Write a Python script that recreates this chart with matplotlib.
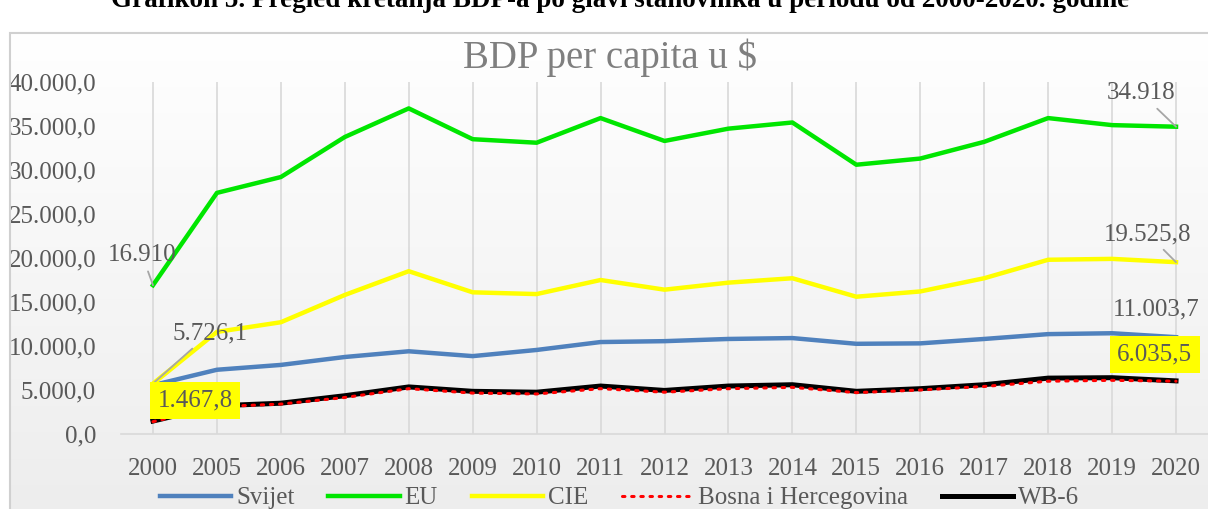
import numpy as np
import matplotlib
matplotlib.use("Agg")
import matplotlib.pyplot as plt
from matplotlib.patches import Rectangle

plt.rcParams['font.family'] = ['Liberation Serif', 'DejaVu Serif']

years = ['2000', '2005', '2006', '2007', '2008', '2009', '2010', '2011', '2012',
         '2013', '2014', '2015', '2016', '2017', '2018', '2019', '2020']
svijet = [5550, 7300, 7850, 8750, 9400, 8850, 9550, 10450, 10550,
          10800, 10900, 10250, 10300, 10800, 11350, 11450, 11003.7]
eu = [16910, 27400, 29200, 33750, 37000, 33500, 33100, 35900, 33300,
      34700, 35400, 30600, 31300, 33200, 35900, 35100, 34918]
cie = [5726.1, 11600, 12700, 15800, 18500, 16100, 15900, 17500, 16400,
       17200, 17700, 15600, 16200, 17700, 19800, 19900, 19525.8]
bih = [1400, 3100, 3400, 4150, 5150, 4650, 4550, 5150, 4750,
       5150, 5300, 4700, 5000, 5400, 6000, 6100, 6000]
wb6 = [1467.8, 3200, 3500, 4350, 5350, 4850, 4750, 5450, 4950,
       5450, 5600, 4850, 5150, 5600, 6350, 6400, 6035.5]

fig = plt.figure(figsize=(12.08, 5.09), dpi=100)

# chart area background with soft gradient and thin frame
bg = fig.add_axes([10 / 1208, 0, 1 - 10 / 1208, 1 - 33 / 509], zorder=0)
grad = np.linspace(1.0, 0.93, 256).reshape(-1, 1)
bg.imshow(np.dstack([grad, grad, grad]), aspect='auto', extent=[0, 1, 0, 1])
bg.set_axis_off()
fig.patches.append(Rectangle((10 / 1208, -0.01), 1, 1 - 33 / 509 + 0.01, transform=fig.transFigure,
                             fill=False, edgecolor='#d0d0d0', linewidth=1.5))

ax = fig.add_axes([121 / 1208, 1 - 434 / 509, 1 - 121 / 1208, (434 - 82) / 509], zorder=1)
ax.patch.set_alpha(0)
x = np.arange(len(years))

ax.plot(x, svijet, color='#4f81bd', lw=3.2, label='Svijet', zorder=3)
ax.plot(x, eu, color='#00e600', lw=3.2, label='EU', zorder=3)
ax.plot(x, cie, color='#ffff00', lw=3.2, label='CIE', zorder=3)
ax.plot(x, wb6, color='black', lw=3.6, label='WB-6', zorder=3)
ax.plot(x, bih, color='#ff0000', lw=2.2, ls=(0, (0.8, 2.2)), dash_capstyle='round',
        label='Bosna i Hercegovina', zorder=4)

ax.set_xlim(-0.5, len(years) - 0.5)
ax.set_ylim(0, 40000)
ax.set_xticks(x)
ax.set_xticklabels(years)
yt = np.arange(0, 40001, 5000)
ax.set_yticks(yt)
ax.set_yticklabels([f"{v:,.1f}".replace(',', 'X').replace('.', ',').replace('X', '.') for v in yt])
ax.tick_params(length=0, labelsize=18, labelcolor='#595959')
ax.tick_params(axis='x', pad=17)
ax.tick_params(axis='y', pad=18)
ax.grid(axis='x', color='#d9d9d9', lw=1.2)
for s in ['top', 'right', 'left']:
    ax.spines[s].set_visible(False)
ax.spines['bottom'].set_color('#d9d9d9')
ax.spines['bottom'].set_linewidth(1.2)

lab = dict(fontsize=18, color='#595959', zorder=6)
lead = dict(arrowstyle='-', color='#a6a6a6', lw=1.3, shrinkA=2, shrinkB=0)
ax.annotate('16.910', xy=(0, eu[0]), xytext=(-0.17, 20340), ha='center', va='center',
            arrowprops=lead, **lab)
ax.annotate('5.726,1', xy=(0, cie[0]), xytext=(0.89, 11480), ha='center', va='center',
            arrowprops=lead, **lab)
ax.annotate('34.918', xy=(16, eu[-1]), xytext=(15.45, 38750), ha='center', va='center',
            arrowprops=lead, **lab)
ax.annotate('19.525,8', xy=(16, cie[-1]), xytext=(15.56, 22730), ha='center', va='center',
            arrowprops=lead, **lab)
ax.text(15.69, 14200, '11.003,7', ha='center', va='center', **lab)
box = dict(boxstyle='square,pad=0.3', facecolor='#ffff00', edgecolor='none')
ax.text(0.66, 3860, '1.467,8', ha='center', va='center', bbox=box, **lab)
ax.text(15.67, 9090, '6.035,5', ha='center', va='center', bbox=box, **lab)

fig.text(610 / 1208, 1 - 58 / 509, 'BDP per capita u $', ha='center', va='center',
         fontsize=28, color='#7f7f7f')
fig.text(0.513, 1 - 7 / 509, 'Grafikon 5. Pregled kretanja BDP-a po glavi stanovnika u periodu od 2000-2020. godine',
         ha='center', va='baseline', fontsize=19.5, fontweight='bold')

h, l = ax.get_legend_handles_labels()
order = [0, 1, 2, 4, 3]
fig.legend([h[i] for i in order], [l[i] for i in order], loc='center', bbox_to_anchor=(0.513, 11 / 509),
           ncol=5, frameon=False, fontsize=18, labelcolor='#595959', handlelength=2.85,
           columnspacing=1.35, handletextpad=0.2)

fig.savefig('out.png', dpi=100)
